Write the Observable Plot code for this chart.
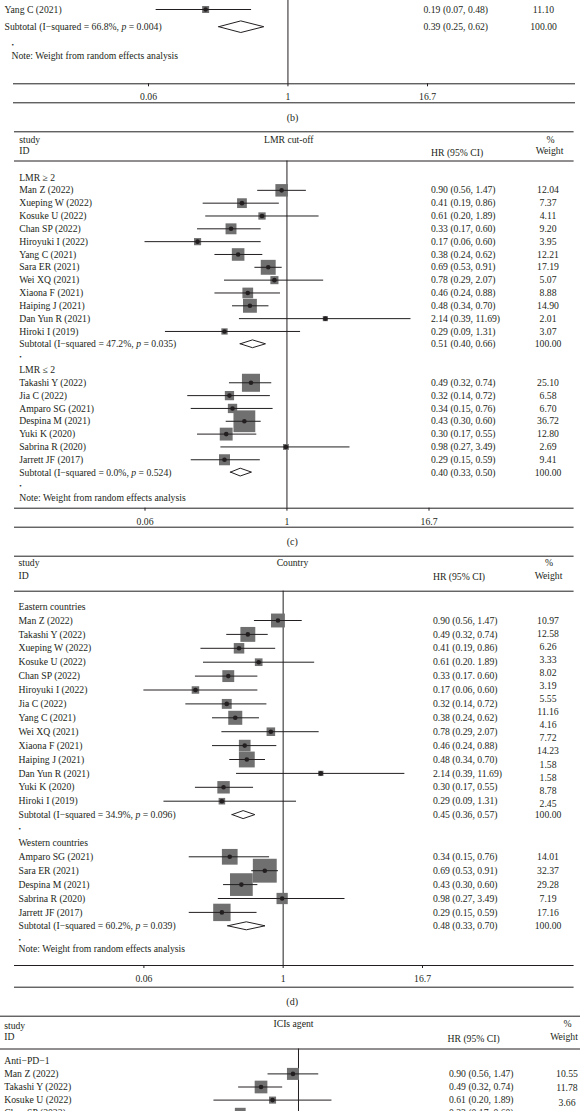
<!DOCTYPE html>
<html><head><meta charset="utf-8">
<script src="https://cdn.jsdelivr.net/npm/d3@7"></script>
<script src="https://cdn.jsdelivr.net/npm/@observablehq/plot@0.6"></script>
<style>
html,body{margin:0;padding:0;background:#fff;}
#chart{width:587px;overflow:hidden;}
#chart svg{display:block;}
</style></head><body><div id="chart"></div>
<script>
// ---------------- data ----------------
const tickValues = [0.06, 1, 16.7];
const tickLabels = ["0.06", "1", "16.7"];

// (b) tail of the panel
const bNames = ["Yang C (2021)"];
const bHR = [0.19], bLo = [0.07], bHi = [0.48];
const bWeight = [11.10];
const bSubLabel = "Subtotal (I\u2212squared = 66.8%, p = 0.004)";
const bSubHR = 0.39, bSubLo = 0.25, bSubHi = 0.62;

// (c) LMR cut-off
const cGroups = ["LMR \u2265 2", "LMR \u2264 2"];
const cHighNames = ["Man Z (2022)","Xueping W (2022)","Kosuke U (2022)","Chan SP (2022)","Hiroyuki I (2022)","Yang C (2021)","Sara ER (2021)","Wei XQ (2021)","Xiaona F (2021)","Haiping J (2021)","Dan Yun R (2021)","Hiroki I (2019)"];
const cHighHR = [0.90,0.41,0.61,0.33,0.17,0.38,0.69,0.78,0.46,0.48,2.14,0.29];
const cHighLo = [0.56,0.19,0.20,0.17,0.06,0.24,0.53,0.29,0.24,0.34,0.39,0.09];
const cHighHi = [1.47,0.86,1.89,0.60,0.60,0.62,0.91,2.07,0.88,0.70,11.69,1.31];
const cHighW  = [12.04,7.37,4.11,9.20,3.95,12.21,17.19,5.07,8.88,14.90,2.01,3.07];
const cLowNames = ["Takashi Y (2022)","Jia C (2022)","Amparo SG (2021)","Despina M (2021)","Yuki K (2020)","Sabrina R (2020)","Jarrett JF (2017)"];
const cLowHR = [0.49,0.32,0.34,0.43,0.30,0.98,0.29];
const cLowLo = [0.32,0.14,0.15,0.30,0.17,0.27,0.15];
const cLowHi = [0.74,0.72,0.76,0.60,0.55,3.49,0.59];
const cLowW  = [25.10,6.58,6.70,36.72,12.80,2.69,9.41];
const cSubLabels = ["Subtotal (I\u2212squared = 47.2%, p = 0.035)","Subtotal (I\u2212squared = 0.0%, p = 0.524)"];
const cSubHR = [0.51,0.40], cSubLo = [0.40,0.33], cSubHi = [0.66,0.50];

// (d) Country
const dGroups = ["Eastern countries", "Western countries"];
const dEastNames = ["Man Z (2022)","Takashi Y (2022)","Xueping W (2022)","Kosuke U (2022)","Chan SP (2022)","Hiroyuki I (2022)","Jia C (2022)","Yang C (2021)","Wei XQ (2021)","Xiaona F (2021)","Haiping J (2021)","Dan Yun R (2021)","Yuki K (2020)","Hiroki I (2019)"];
const dEastHR = [0.90,0.49,0.41,0.61,0.33,0.17,0.32,0.38,0.78,0.46,0.48,2.14,0.30,0.29];
const dEastLo = [0.56,0.32,0.19,0.20,0.17,0.06,0.14,0.24,0.29,0.24,0.34,0.39,0.17,0.09];
const dEastHi = [1.47,0.74,0.86,1.89,0.60,0.60,0.72,0.62,2.07,0.88,0.70,11.69,0.55,1.31];
const dEastCI = ["0.90 (0.56, 1.47)","0.49 (0.32, 0.74)","0.41 (0.19, 0.86)","0.61 (0.20. 1.89)","0.33 (0.17. 0.60)","0.17 (0.06, 0.60)","0.32 (0.14, 0.72)","0.38 (0.24, 0.62)","0.78 (0.29, 2.07)","0.46 (0.24, 0.88)","0.48 (0.34, 0.70)","2.14 (0.39, 11.69)","0.30 (0.17, 0.55)","0.29 (0.09, 1.31)"];
const dEastW = [10.97,12.58,6.26,3.33,8.02,3.19,5.55,11.16,4.16,7.72,14.23,1.58,8.78,2.45];
const dEastWText = ["10.97","12.58","6.26","3.33","8.02","3.19","5.55","11.16","4.16","7.72","14.23","1.58","1.58","8.78","2.45"];
const dWestNames = ["Amparo SG (2021)","Sara ER (2021)","Despina M (2021)","Sabrina R (2020)","Jarrett JF (2017)"];
const dWestHR = [0.34,0.69,0.43,0.98,0.29];
const dWestLo = [0.15,0.53,0.30,0.27,0.15];
const dWestHi = [0.76,0.91,0.60,3.49,0.59];
const dWestW  = [14.01,32.37,29.28,7.19,17.16];
const dSubLabels = ["Subtotal (I\u2212squared = 34.9%, p = 0.096)","Subtotal (I\u2212squared = 60.2%, p = 0.039)"];
const dSubHR = [0.45,0.48], dSubLo = [0.36,0.33], dSubHi = [0.57,0.70];

// (e) ICIs agent (top of panel only)
const eGroups = ["Anti\u2212PD\u22121"];
const eNames = ["Man Z (2022)","Takashi Y (2022)","Kosuke U (2022)","Chan SP (2022)"];
const eHR = [0.90,0.49,0.61,0.33];
const eLo = [0.56,0.32,0.20,0.17];
const eHi = [1.47,0.74,1.89,0.60];
const eW  = [10.55,11.78,3.66,8.5];
const eWText = ["10.55","11.78","3.66"];

const noteText = "Note: Weight from random effects analysis";

// ---------------- drawing ----------------
const FONT = "'Liberation Serif','Times New Roman',serif";
const INK = "#231f20";
const BOX = "#707070";
const FS = 9.7;
const fmt = v => v.toFixed(2);
const ciText = (h, l, u) => `${fmt(h)} (${fmt(l)}, ${fmt(u)})`;
const ticks = tickValues.map((v, i) => ({v, label: tickLabels[i]}));

function forest(cfg) {
  const H = cfg.bottom - cfg.top;
  const loc = px => px - cfg.top;
  const row = px => (px - cfg.row0) / cfg.step;
  const mL = cfg.lineX[0], mR = 587 - cfg.lineX[1];
  const col = px => px - mL;

  // log scale: the outer ticks land on the given pixels
  const t0 = Math.log10(tickValues[0]), t2 = Math.log10(tickValues[2]);
  const ppd = (cfg.xr[1] - cfg.xr[0]) / (t2 - t0);
  const dom = [0.001, 1000];
  const rng = dom.map(v => cfg.xr[0] + (Math.log10(v) - t0) * ppd);

  let r = 0;
  const labels = [], items = [], subs = [], dots = [], wts = [];
  cfg.groups.forEach((g, gi) => {
    if (g.title) labels.push({row: r++, text: g.title});
    const first = r;
    g.names.forEach((n, i) => {
      labels.push({row: r, text: n});
      items.push({row: r, hr: g.hr[i], lo: g.lo[i], hi: g.hi[i], w: g.w[i],
        text: g.ci ? g.ci[i] : ciText(g.hr[i], g.lo[i], g.hi[i])});
      r++;
    });
    const wt = g.wText ?? g.w.map(fmt);
    wt.forEach((t, k) => wts.push({row: first + k * (g.wStep ?? 1), text: t}));
    if (g.sub) {
      labels.push({row: r, text: g.sub.label});
      subs.push({id: gi, row: r, hr: g.sub.hr, lo: g.sub.lo, hi: g.sub.hi, text: ciText(g.sub.hr, g.sub.lo, g.sub.hi)});
      wts.push({row: r, text: "100.00"});
      r++;
    }
    if (g.dot) dots.push({row: r++, text: "\u2022"});
  });
  const noteRow = cfg.notePx != null ? row(cfg.notePx) : r;

  const hRow = (cfg.diamondHalf || 4) / cfg.step;
  const diamonds = subs.flatMap(s => [
    {id: s.id, x: s.lo, y1: s.row, y2: s.row},
    {id: s.id, x: s.hr, y1: s.row - hRow, y2: s.row + hRow},
    {id: s.id, x: s.hi, y1: s.row, y2: s.row}
  ]);

  const txt = (data, px, anchor, extra = {}) => Plot.text(data, {
    y: "row", text: "text", frameAnchor: "left", dx: col(px), textAnchor: anchor,
    fontSize: FS, fontFamily: FONT, fill: INK, ...extra
  });

  const lines = [];
  if (cfg.topLine != null) lines.push(row(cfg.topLine));
  if (cfg.headerLine != null) lines.push(row(cfg.headerLine));
  if (cfg.axisLine != null) lines.push(row(cfg.axisLine), row(cfg.bottomLine));

  const marks = [
    Plot.ruleY(lines, {stroke: INK, strokeWidth: 1}),
    Plot.ruleX([1], {y1: row(cfg.refTop), y2: row(cfg.refBottom ?? cfg.axisLine), stroke: INK, strokeWidth: 1}),
    Plot.dot(items, {x: "hr", y: "row", r: "w", symbol: "square", fill: BOX, stroke: null}),
    Plot.ruleY(items, {y: "row", x1: "lo", x2: "hi", stroke: INK, strokeWidth: 1}),
    Plot.dot(items, {x: "hr", y: "row", r: 2.3, fill: INK, stroke: null}),
    Plot.areaY(diamonds, {x: "x", y1: "y1", y2: "y2", z: "id", fill: "white", stroke: INK, strokeWidth: 1}),
    txt(labels, cfg.nameX, "start"),
    txt(items.concat(subs), cfg.ciX, "start"),
    txt(wts, cfg.wX, "middle"),
    txt(dots, cfg.noteX, "start", {fontSize: 7})
  ];
  if (cfg.note) marks.push(txt([{row: noteRow, text: noteText}], cfg.noteX, "start"));
  (cfg.header || []).forEach(h => marks.push(txt([{row: row(h.y), text: h.text}], h.x, h.a)));
  if (cfg.axisLine != null) {
    const a = row(cfg.axisLine);
    marks.push(Plot.ruleX(ticks, {x: "v", y1: a, y2: row(cfg.axisLine + 3), stroke: INK, strokeWidth: 1}));
    marks.push(Plot.text(ticks, {x: "v", y: row(cfg.axisLine + 13.5), text: "label", fontSize: FS, fontFamily: FONT, fill: INK}));
    marks.push(txt([{row: row(cfg.caption[0]), text: cfg.caption[1]}], cfg.captionX, "middle", {fontSize: 10}));
  }

  const svg = Plot.plot({
    width: 587, height: H,
    marginLeft: mL, marginRight: mR, marginTop: 0, marginBottom: 0,
    x: {type: "log", domain: dom, range: rng, axis: null},
    y: {type: "linear", domain: [0, 1], range: [loc(cfg.row0), loc(cfg.row0 + cfg.step)], axis: null},
    r: {type: "sqrt", domain: [0, 100], range: [0, cfg.boxK * 10 / Math.sqrt(Math.PI)]},
    style: {fontFamily: FONT, fontSize: FS + "px", color: INK, background: "white", overflow: "hidden"},
    marks
  });

  // italic p in subtotal labels
  svg.querySelectorAll("text").forEach(t => {
    const target = t.querySelector("tspan") || t;
    const s = target.textContent;
    const i = s.indexOf(", p = ");
    if (i >= 0 && target.children.length === 0) {
      target.textContent = "";
      target.append(document.createTextNode(s.slice(0, i + 2)));
      const ts = document.createElementNS("http://www.w3.org/2000/svg", "tspan");
      ts.setAttribute("font-style", "italic");
      ts.textContent = "p";
      target.append(ts, document.createTextNode(s.slice(i + 3)));
    }
  });
  return svg;
}

const chart = document.getElementById("chart");

chart.append(forest({
  top: 0, bottom: 124, xr: [148, 427], row0: 9, step: 17.7, lineX: [13, 575],
  nameX: 4, noteX: 11, ciX: 423, wX: 543, boxK: 2.1, diamondHalf: 5.8,
  refTop: 0, axisLine: 83.3, bottomLine: 102.3, caption: [117.3, "(b)"], captionX: 292,
  notePx: 55, note: true,
  groups: [{names: bNames, hr: bHR, lo: bLo, hi: bHi, w: bWeight,
    sub: {label: bSubLabel, hr: bSubHR, lo: bSubLo, hi: bSubHi}, dot: true}]
}));

chart.append(forest({
  top: 124, bottom: 549, xr: [144.5, 428.5], row0: 177, step: 12.83, lineX: [14, 573.6],
  nameX: 18.7, noteX: 18.7, ciX: 430.5, wX: 547.5, boxK: 3.6, diamondHalf: 3.9,
  topLine: 131.3, headerLine: 160.5, refTop: 160.5, axisLine: 507.7, bottomLine: 526.7,
  caption: [541.7, "(c)"], captionX: 291.7, note: true,
  header: [
    {y: 139, x: 18.7, text: "study", a: "start"},
    {y: 139, x: 288.3, text: "LMR cut-off", a: "middle"},
    {y: 139, x: 550, text: "%", a: "middle"},
    {y: 150, x: 18.7, text: "ID", a: "start"},
    {y: 152, x: 430.5, text: "HR (95% CI)", a: "start"},
    {y: 150, x: 549, text: "Weight", a: "middle"}
  ],
  groups: [
    {title: cGroups[0], names: cHighNames, hr: cHighHR, lo: cHighLo, hi: cHighHi, w: cHighW,
      sub: {label: cSubLabels[0], hr: cSubHR[0], lo: cSubLo[0], hi: cSubHi[0]}, dot: true},
    {title: cGroups[1], names: cLowNames, hr: cLowHR, lo: cLowLo, hi: cLowHi, w: cLowW,
      sub: {label: cSubLabels[1], hr: cSubHR[1], lo: cSubLo[1], hi: cSubHi[1]}, dot: true}
  ]
}));

chart.append(forest({
  top: 549, bottom: 1008, xr: [143.4, 422], row0: 606.1, step: 13.9, lineX: [14, 573.6],
  nameX: 18, noteX: 18, ciX: 432.4, wX: 547.5, boxK: 4.2, diamondHalf: 4,
  topLine: 555.7, headerLine: 590.7, refTop: 590.7, axisLine: 965, bottomLine: 986.7,
  caption: [1001.7, "(d)"], captionX: 291.7, notePx: 948.3, note: true,
  header: [
    {y: 562.5, x: 18, text: "study", a: "start"},
    {y: 562.5, x: 292, text: "Country", a: "middle"},
    {y: 562.5, x: 548.5, text: "%", a: "middle"},
    {y: 575, x: 18, text: "ID", a: "start"},
    {y: 576, x: 432.4, text: "HR (95% CI)", a: "start"},
    {y: 575, x: 548, text: "Weight", a: "middle"}
  ],
  groups: [
    {title: dGroups[0], names: dEastNames, hr: dEastHR, lo: dEastLo, hi: dEastHi, ci: dEastCI, w: dEastW,
      wText: dEastWText, wStep: 13.18 / 14,
      sub: {label: dSubLabels[0], hr: dSubHR[0], lo: dSubLo[0], hi: dSubHi[0]}, dot: true},
    {title: dGroups[1], names: dWestNames, hr: dWestHR, lo: dWestLo, hi: dWestHi, w: dWestW,
      sub: {label: dSubLabels[1], hr: dSubHR[1], lo: dSubLo[1], hi: dSubHi[1]}, dot: true}
  ]
}));

chart.append(forest({
  top: 1008, bottom: 1111, xr: [150.2, 445.9], row0: 1060.3, step: 13.1, lineX: [0, 580],
  nameX: 3.7, noteX: 3.7, ciX: 448.5, wX: 566.5, boxK: 3.7,
  topLine: 1015.7, headerLine: 1048.5, refTop: 1048.5, refBottom: 1115,
  header: [
    {y: 1025, x: 3.7, text: "study", a: "start"},
    {y: 1023, x: 293, text: "ICIs agent", a: "middle"},
    {y: 1023, x: 567, text: "%", a: "middle"},
    {y: 1036.7, x: 3.7, text: "ID", a: "start"},
    {y: 1038.3, x: 447, text: "HR (95% CI)", a: "start"},
    {y: 1036.7, x: 563.5, text: "Weight", a: "middle"}
  ],
  groups: [
    {title: eGroups[0], names: eNames, hr: eHR, lo: eLo, hi: eHi, w: eW, wText: eWText, wStep: 1.1}
  ]
}));
</script></body></html>
